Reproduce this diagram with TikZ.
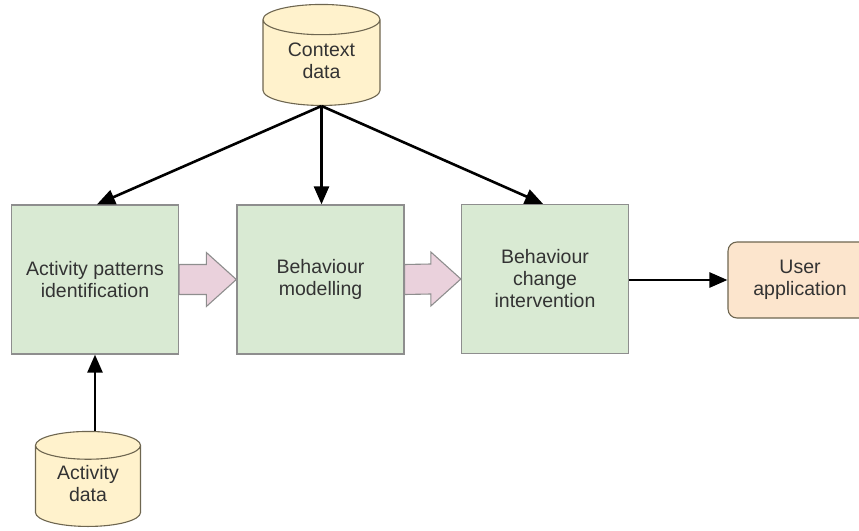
\documentclass[tikz,border=0pt]{standalone}
\usepackage{fontspec}
\setmainfont{Liberation Sans}
\usetikzlibrary{shapes.geometric,calc,arrows.meta}
\definecolor{boxgreen}{HTML}{D9EAD3}
\definecolor{boxline}{HTML}{8E8E8E}
\definecolor{dbfill}{HTML}{FFF2CC}
\definecolor{dbline}{HTML}{6E6650}
\definecolor{appfill}{HTML}{FCE5CD}
\definecolor{pinkfill}{HTML}{EAD1DC}
\definecolor{txt}{HTML}{333333}
\newcommand{\dbtext}[1]{\raisebox{-6pt}{\begin{tabular}{@{}c@{}}#1\end{tabular}}}
\begin{document}
\begin{tikzpicture}[x=1pt,y=-1pt,
  every node/.style={font=\fontsize{19.5}{22}\selectfont, text=txt, align=center},
  procbox/.style={draw=boxline, fill=boxgreen, line width=1.3pt, minimum width=167pt, minimum height=149pt, inner sep=0pt},
  dbnode/.style={cylinder, shape border rotate=90, aspect=0.45, draw=dbline, fill=dbfill, line width=1.1pt, inner sep=0pt},
  appbox/.style={draw=dbline, fill=appfill, line width=1.1pt, rounded corners=9pt, minimum width=144pt, minimum height=76pt, inner sep=0pt},
  flow/.style={-{Triangle[length=18pt,width=15pt]}, line width=2.6pt, black},
  fat/.style={draw=boxline, fill=pinkfill, line width=1.1pt, line join=miter}]
\clip (0,0) rectangle (859,530);
\node[procbox] (b1) at (95,279.5) {Activity patterns\\identification};
\node[procbox] (b2) at (320.5,279.5) {Behaviour\\modelling};
\node[procbox] (b3) at (545,279) {Behaviour\\change\\intervention};
\node[appbox] (app) at (800,280) {User\\application};
\node[dbnode, minimum width=117pt, minimum height=101pt, anchor=south] (ctx) at (321.5,106) {\dbtext{Context\\data}};
\node[dbnode, minimum width=105pt, minimum height=95pt, anchor=south] (act) at (88,527) {\dbtext{Activity\\data}};
% block arrows
\foreach \a/\b in {b1/b2, b2/b3}{
  \draw[fat] ($(\a.east)+(0,-15)$) -- ($(\b.west)+(-30,-15)$) -- ($(\b.west)+(-30,-27)$) -- (\b.west) -- ($(\b.west)+(-30,27)$) -- ($(\b.west)+(-30,15)$) -- ($(\a.east)+(0,15)$) -- cycle;
}
\draw[flow] (ctx.south) -- ($(b1.north)+(2,0)$);
\draw[flow] (ctx.south) -- (b2.north -| ctx.south);
\draw[flow] (ctx.south) -- ($(b3.north)+(-2,0)$);
\draw[flow] (act.north -| b1.south) -- (b1.south);
\draw[flow] (b3.east |- app.west) -- (app.west);
\end{tikzpicture}
\end{document}
